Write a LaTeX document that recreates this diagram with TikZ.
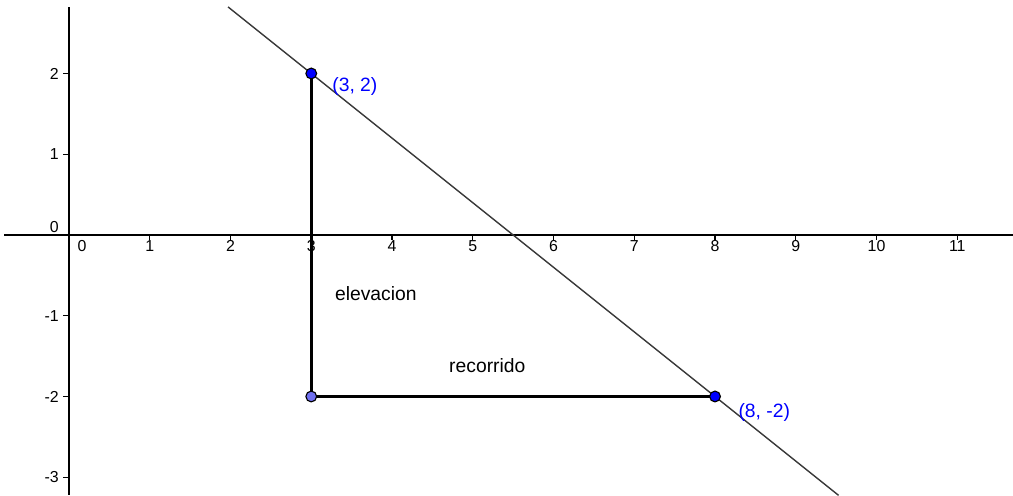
\documentclass[tikz,border=0pt]{standalone}
\usepackage{fontspec}
\setmainfont{Liberation Sans}
\definecolor{geoAzul}{HTML}{0000FF}
\definecolor{geoAzulClaro}{HTML}{7070F0}
\definecolor{geoRecta}{HTML}{3A3A3A}
\usetikzlibrary{
	calc,
	positioning
}
\tikzset{
	eje/.style={
		line width=0.6pt,
		black
	},
	marca/.style={
		line width=0.45pt,
		black
	},
	numero/.style={
		font=\fontsize{5.6}{6}\selectfont,
		inner sep=0pt
	},
	texto/.style={
		font=\fontsize{6.8}{8}\selectfont,
		inner sep=0pt
	},
	coordenada/.style={
		font=\fontsize{6.8}{8}\selectfont,
		text=geoAzul,
		inner sep=0pt
	},
	punto/.style={
		circle,
		draw=black,
		fill=geoAzul,
		line width=0.4pt,
		minimum size=3.8pt,
		inner sep=0pt
	},
	puntoClaro/.style={
		punto,
		fill=geoAzulClaro
	},
	lado/.style={
		line width=1.05pt,
		black
	},
	recta/.style={
		line width=0.5pt,
		geoRecta
	}
}

\begin{document}
\begin{tikzpicture}
		\useasboundingbox[fill=white] (-0.8545,-3.22) rectangle (11.69,2.91);
		% ejes
		\draw[eje] (-0.80,0) -- (11.69,0);
		\draw[eje] (0,2.82) -- (0,-3.22);
		\foreach \x in {1,...,11}{
			\draw[marca] (\x,0) -- (\x,-0.06);
			\node[numero, anchor=north] (nx\x) at (\x,-0.065) {\x};
		}
		\node[numero, anchor=north] (nx0) at (0.16,-0.065) {0};
		\foreach \y in {-3,-2,-1,1,2}{
			\draw[marca] (0,\y) -- (-0.07,\y);
			\node[numero, anchor=east] (ny\y) at (-0.12,\y) {\y};
		}
		\node[numero, anchor=east] (ny0) at (-0.12,0.10) {0};
		% puntos y recta
		\coordinate (pA) at (3,2);
		\coordinate (pC) at (3,-2);
		\coordinate (pB) at (8,-2);
		\coordinate (inicio) at ($(pA)!-0.206!(pB)$);
		\coordinate (fin) at ($(pA)!1.306!(pB)$);
		\draw[recta] (inicio) -- (fin);
		\draw[lado] (pA) -- (pC) -- (pB);
		\node[puntoClaro] (C) at (pC) {};
		\node[punto] (A) at (pA) {};
		\node[punto] (B) at (pB) {};
		\node[coordenada] (etA) at (3.54,1.84) {(3, 2)};
		\node[coordenada] (etB) at (8.61,-2.20) {(8, -2)};
		\node[texto] (elevacion) at (3.80,-0.72) {elevacion};
		\node[texto] (recorrido) at (5.18,-1.62) {recorrido};
	\end{tikzpicture}
\end{document}
